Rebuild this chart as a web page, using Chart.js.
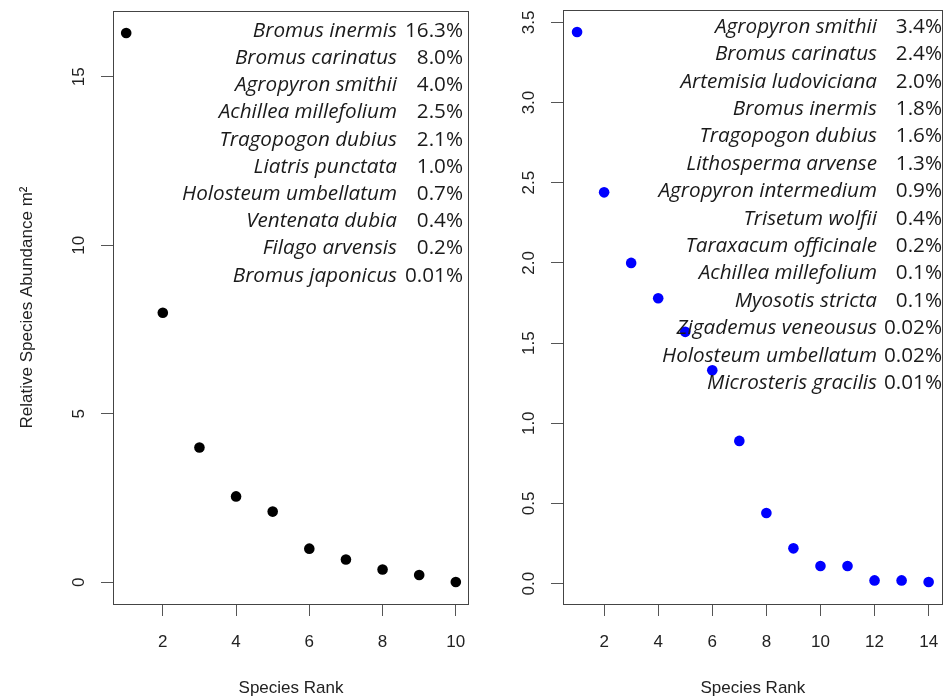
<!DOCTYPE html>
<html><head><meta charset="utf-8">
<script src="https://cdn.jsdelivr.net/npm/chart.js@4"></script>
<style>
html,body{margin:0;padding:0;background:#fff;}
#wrap{position:relative;width:948px;height:700px;overflow:hidden;background:#fff;}
#c1{position:absolute;left:0;top:0;}
#c2{position:absolute;left:480px;top:0;}
</style></head><body>
<div id="wrap"><canvas id="c1" width="480" height="700"></canvas><canvas id="c2" width="468" height="700"></canvas></div>
<script>
// ---------- data ----------
const leftRanks = [1, 2, 3, 4, 5, 6, 7, 8, 9, 10];
const leftAbundance = [16.3, 8.0, 4.0, 2.55, 2.1, 1.0, 0.68, 0.38, 0.22, 0.01];
const leftSpecies = ["Bromus inermis", "Bromus carinatus", "Agropyron smithii", "Achillea millefolium",
  "Tragopogon dubius", "Liatris punctata", "Holosteum umbellatum", "Ventenata dubia",
  "Filago arvensis", "Bromus japonicus"];
const leftPercents = ["16.3%", "8.0%", "4.0%", "2.5%", "2.1%", "1.0%", "0.7%", "0.4%", "0.2%", "0.01%"];
const leftXTicks = [2, 4, 6, 8, 10];
const leftYTicks = [0, 5, 10, 15];

const rightRanks = [1, 2, 3, 4, 5, 6, 7, 8, 9, 10, 11, 12, 13, 14];
const rightAbundance = [3.44, 2.44, 2.0, 1.78, 1.57, 1.33, 0.89, 0.44, 0.22, 0.11, 0.11, 0.02, 0.02, 0.01];
const rightSpecies = ["Agropyron smithii", "Bromus carinatus", "Artemisia ludoviciana", "Bromus inermis",
  "Tragopogon dubius", "Lithosperma arvense", "Agropyron intermedium", "Trisetum wolfii",
  "Taraxacum officinale", "Achillea millefolium", "Myosotis stricta", "Zigademus veneousus",
  "Holosteum umbellatum", "Microsteris gracilis"];
const rightPercents = ["3.4%", "2.4%", "2.0%", "1.8%", "1.6%", "1.3%", "0.9%", "0.4%", "0.2%", "0.1%", "0.1%", "0.02%", "0.02%", "0.01%"];
const rightXTicks = [2, 4, 6, 8, 10, 12, 14];
const rightYTicks = [0, 0.5, 1.0, 1.5, 2.0, 2.5, 3.0, 3.5];

const xTitle = "Species Rank";
const yTitle = "Relative Species Abundance m\u00B2";

// ---------- helpers ----------
function rRange(vals) { // R-style 4% axis extension
  const mn = Math.min(...vals), mx = Math.max(...vals), d = (mx - mn) * 0.04;
  return [mn - d, mx + d];
}
const AXIS_FONT = { family: '"Liberation Sans", Arial, sans-serif', size: 17 };
const TEXT_COLOR = '#222';
const LEG_FAMILY = '"Open Sans", "Noto Sans", sans-serif';

function legendFontSize(ctx) {
  ctx.save();
  ctx.font = 'italic 100px ' + LEG_FAMILY;
  const w = ctx.measureText('Holosteum umbellatum').width;
  ctx.restore();
  return 100 * 215 / w;
}

const panelPlugin = {
  id: 'panel',
  afterDraw(chart, args, o) {
    const ctx = chart.ctx, ca = chart.chartArea, ys = chart.scales.y;
    ctx.save();
    // box
    ctx.strokeStyle = '#444'; ctx.lineWidth = 1;
    ctx.strokeRect(Math.round(ca.left) + 0.5, Math.round(ca.top) + 0.5,
      Math.round(ca.right - ca.left) - 1, Math.round(ca.bottom - ca.top));
    // rotated y tick labels (R style)
    ctx.fillStyle = TEXT_COLOR;
    ctx.font = AXIS_FONT.size + 'px ' + AXIS_FONT.family;
    ctx.textAlign = 'center'; ctx.textBaseline = 'alphabetic';
    ys.ticks.forEach(t => {
      const y = ys.getPixelForValue(t.value);
      ctx.save(); ctx.translate(ca.left - 29, y); ctx.rotate(-Math.PI / 2);
      ctx.fillText(o.yFormat(t.value), 0, 0); ctx.restore();
    });
    // species text block
    const fs = legendFontSize(ctx).toFixed(2);
    ctx.textBaseline = 'middle'; ctx.textAlign = 'right'; ctx.fillStyle = '#1a1a1a';
    o.names.forEach((n, i) => {
      const y = o.firstY + i * o.step;
      ctx.font = 'italic ' + fs + 'px ' + LEG_FAMILY;
      ctx.fillText(n, o.namesRight, y);
      ctx.font = fs + 'px ' + LEG_FAMILY;
      ctx.fillText(o.pcts[i], o.pctRight, y);
    });
    ctx.restore();
  }
};

function makePanel(canvas, p) {
  const [xmin, xmax] = rRange(p.ranks);
  const [ymin, ymax] = rRange(p.values);
  return new Chart(canvas, {
    type: 'scatter',
    data: { datasets: [{ data: p.ranks.map((r, i) => ({ x: r, y: p.values[i] })),
      backgroundColor: p.color, borderWidth: 0, pointRadius: 5.3, pointHoverRadius: 5.3 }] },
    options: {
      responsive: false, animation: false, events: [],
      layout: { padding: { left: 0, right: p.padRight, top: p.padTop, bottom: 0 } },
      plugins: { legend: { display: false }, tooltip: { enabled: false },
        panel: { names: p.names, pcts: p.pcts, namesRight: p.namesRight, pctRight: p.pctRight,
          firstY: p.firstY, step: p.step, yFormat: p.yFormat } },
      scales: {
        x: {
          type: 'linear', min: xmin, max: xmax,
          afterBuildTicks: s => { s.ticks = p.xTicks.map(v => ({ value: v })); },
          afterFit: s => { s.height = 96; s.paddingLeft = 0; s.paddingRight = 0; },
          grid: { display: true, drawOnChartArea: false, drawTicks: true, tickLength: 12, color: '#555' },
          border: { display: false },
          ticks: { font: AXIS_FONT, color: TEXT_COLOR, padding: 16, maxRotation: 0, callback: v => String(v) },
          title: { display: true, text: xTitle, font: AXIS_FONT, color: TEXT_COLOR, padding: { top: 0, bottom: 1 } }
        },
        y: {
          type: 'linear', min: ymin, max: ymax,
          afterBuildTicks: s => { s.ticks = p.yTicks.map(v => ({ value: v })); },
          afterFit: s => { s.width = p.yWidth; s.paddingTop = 0; s.paddingBottom = 0; },
          grid: { display: true, drawOnChartArea: false, drawTicks: true, tickLength: 12, color: '#555' },
          border: { display: false },
          ticks: { display: false },
          title: p.showYTitle ? { display: true, text: yTitle, font: AXIS_FONT, color: TEXT_COLOR, padding: { top: 17, bottom: 0 } } : { display: false }
        }
      }
    },
    plugins: [panelPlugin]
  });
}

makePanel(document.getElementById('c1'), {
  ranks: leftRanks, values: leftAbundance, color: '#000000', names: leftSpecies, pcts: leftPercents,
  xTicks: leftXTicks, yTicks: leftYTicks, yFormat: v => String(v),
  yWidth: 113, padRight: 11, padTop: 11, showYTitle: true,
  namesRight: 397, pctRight: 463, firstY: 31, step: 27.2
});
makePanel(document.getElementById('c2'), {
  ranks: rightRanks, values: rightAbundance, color: '#0000ff', names: rightSpecies, pcts: rightPercents,
  xTicks: rightXTicks, yTicks: rightYTicks, yFormat: v => v.toFixed(1),
  yWidth: 83, padRight: 1, padTop: 10, showYTitle: false,
  namesRight: 397, pctRight: 462, firstY: 27, step: 27.4
});
</script>
</body></html>
